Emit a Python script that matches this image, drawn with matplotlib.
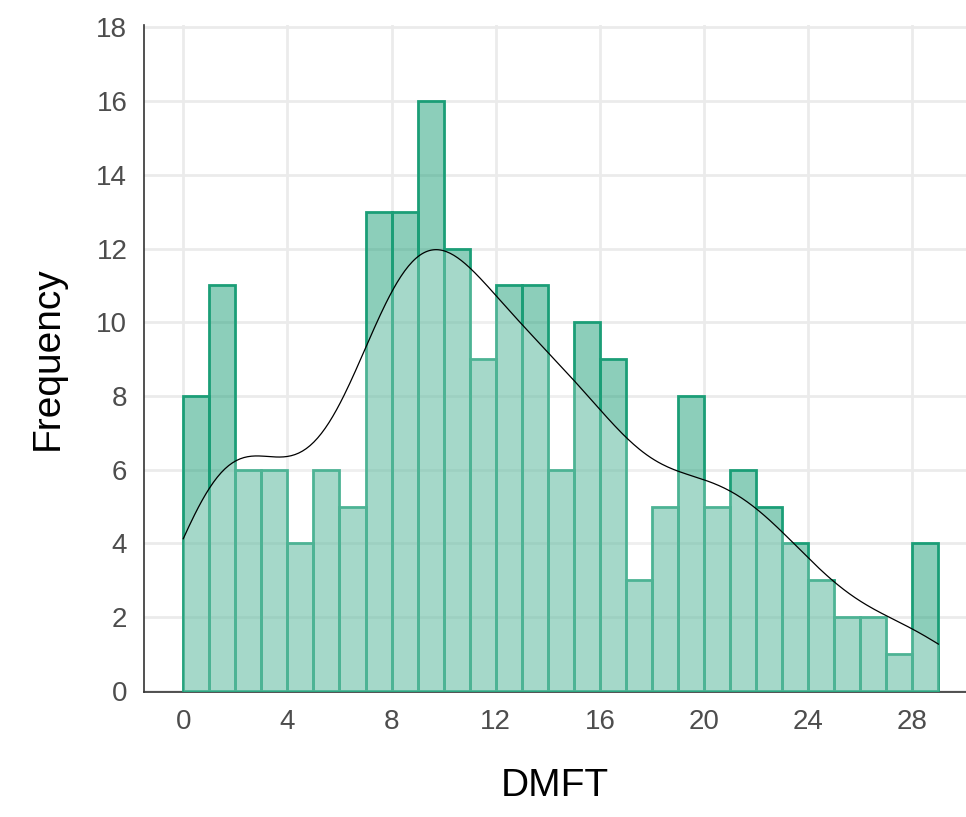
import numpy as np
import matplotlib
matplotlib.use("Agg")
import matplotlib.pyplot as plt

# DMFT 히스토그램 (binwidth = 1)
bin_edges = np.arange(0, 30)
counts = [8, 11, 6, 6, 4, 6, 5, 13, 13, 16, 12, 9, 11, 11, 6,
          10, 9, 3, 5, 8, 5, 6, 5, 4, 3, 2, 2, 1, 4]
x_ticks = [0, 4, 8, 12, 16, 20, 24, 28]
y_ticks = [0, 2, 4, 6, 8, 10, 12, 14, 16, 18]

bar_color = "#1b9e77"
bw = 1.95

# KDE (bin 중앙값 기준, count 스케일)
counts = np.array(counts)
centers = bin_edges[:-1] + 0.5
n = counts.sum()
xs = np.linspace(bin_edges[0], bin_edges[-1], 400)
z = (xs[:, None] - centers[None, :]) / bw
dens = (counts[None, :] * np.exp(-0.5 * z**2)).sum(axis=1) / (n * bw * np.sqrt(2 * np.pi))
kde_counts = dens * n * 1.0

plt.rcParams['font.family'] = ['Liberation Sans', 'DejaVu Sans']

fig = plt.figure(figsize=(9.66, 8.17), dpi=100)
ax = fig.add_axes([0.149, 0.153, 0.851, 0.817])

ax.bar(bin_edges[:-1], counts, width=1.0, align='edge',
       color=bar_color, alpha=0.5, edgecolor='none', zorder=2)
ax.bar(bin_edges[:-1], counts, width=1.0, align='edge',
       facecolor='none', edgecolor=bar_color, linewidth=2.0, zorder=3)
ax.fill_between(xs, 0, kde_counts, color='white', alpha=0.22, linewidth=0, zorder=4)
ax.plot(xs, kde_counts, color='black', linewidth=0.9, zorder=5)

ax.set_xlim(-1.51, 30.06)
ax.set_ylim(-0.03, 18.08)
ax.set_xticks(x_ticks)
ax.set_yticks(y_ticks)
ax.grid(True, color='#ebebeb', linewidth=2.0, zorder=0)
ax.set_axisbelow(True)
ax.tick_params(length=0, labelsize=20, labelcolor='#4d4d4d', pad=12)

for s in ['top', 'right']:
    ax.spines[s].set_visible(False)
for s in ['left', 'bottom']:
    ax.spines[s].set_color('#333333')
    ax.spines[s].set_linewidth(1.2)

ax.set_xlabel('DMFT', fontsize=28, labelpad=24)
ax.set_ylabel('Frequency', fontsize=28, labelpad=22)

fig.savefig('out.png', dpi=100)
